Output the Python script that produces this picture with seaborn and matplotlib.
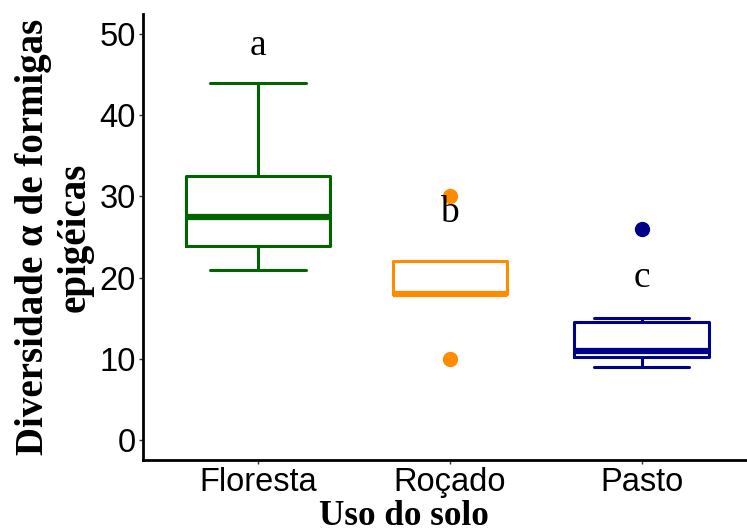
import numpy as np
import pandas as pd
import seaborn as sns
import matplotlib.pyplot as plt

# valores
floresta = [21, 23, 24.2, 27, 28, 32, 34, 44]
rocado = [10, 18, 18, 22, 30]
pasto = [9, 10, 10.5, 11, 14, 15, 26]
usos = ["Floresta", "Roçado", "Pasto"]
cores = ["#006400", "#FF8C00", "#00008B"]
letras = ["a", "b", "c"]
letras_y = [48.5, 28, 20]

df = pd.DataFrame({
    "uso": ["Floresta"] * len(floresta) + ["Roçado"] * len(rocado) + ["Pasto"] * len(pasto),
    "div": floresta + rocado + pasto,
})

sns.set_theme(style="ticks")
fig = plt.figure(figsize=(7.47, 5.32), dpi=100)
ax = fig.add_axes([0.1914, 0.1353, 0.8086, 0.8383])

# largura proporcional a sqrt(n), como varwidth
n_max = df.groupby("uso").size().max()
for uso, cor in zip(usos, cores):
    sub = df[df["uso"] == uso]
    w = 0.755 * np.sqrt(len(sub) / n_max)
    sns.boxplot(data=sub, x="uso", y="div", order=usos, ax=ax, width=w,
                fill=False, color=cor, linewidth=2.2, capwidths=0.5,
                medianprops={"linewidth": 4.5, "color": cor},
                flierprops={"marker": "o", "markersize": 10, "markerfacecolor": cor,
                            "markeredgecolor": cor})

for i, (l, y) in enumerate(zip(letras, letras_y)):
    ax.text(i, y, l, ha="center", va="center", fontsize=27, color="black",
            family="Liberation Serif")

ax.set_xlim(-0.6, 2.55)
ax.set_ylim(-2.46, 52.46)
ax.set_yticks([0, 10, 20, 30, 40, 50])
for s in ["top", "right"]:
    ax.spines[s].set_visible(False)
for s in ["left", "bottom"]:
    ax.spines[s].set_linewidth(2)
    ax.spines[s].set_color("black")
ax.tick_params(labelsize=23.5, length=3, width=1, color="#333333", labelcolor="black", pad=2)
for lab in ax.get_xticklabels() + ax.get_yticklabels():
    lab.set_family("Liberation Sans")

ax.set_xlabel("Uso do solo", fontsize=25.3, fontweight="bold", family="Liberation Serif",
              color="black", labelpad=1.5)
ax.xaxis.label.set_x(0.432)
ax.set_ylabel("Diversidade α de formigas\nepigéicas", fontsize=28, fontweight="bold",
              family="Liberation Serif", color="black", labelpad=4, linespacing=1.2)

fig.savefig("out.png", dpi=100)
